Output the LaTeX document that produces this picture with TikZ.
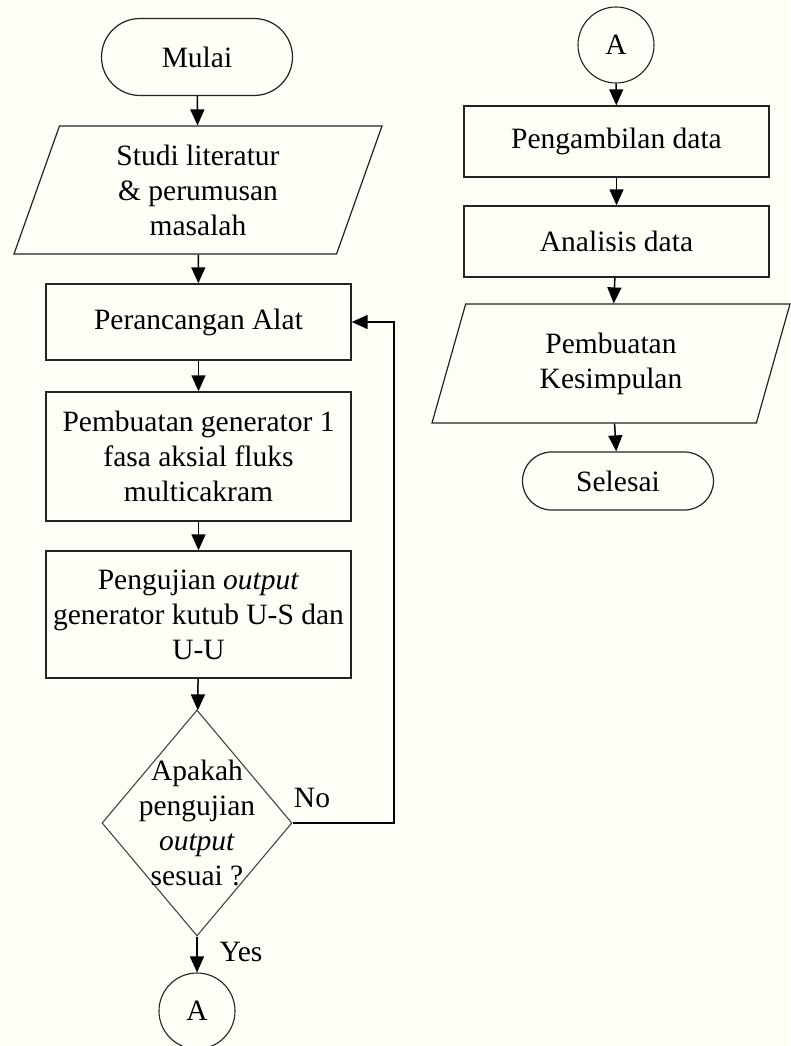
\documentclass[tikz,border=0pt]{standalone}
\usepackage{fontspec}
\setmainfont{Liberation Serif}
\usetikzlibrary{positioning, arrows.meta, shapes.geometric, shapes.misc}
\definecolor{paper}{RGB}{254,254,246}
\definecolor{edge}{RGB}{35,35,35}
\tikzset{
  % --- nodes ---
  terminal/.style  = {rounded rectangle, draw=edge, line width=1.2pt,
                      minimum width=191pt, inner sep=0pt},
  process/.style   = {rectangle, draw=edge, line width=1.4pt, align=center,
                      minimum width=305pt, inner sep=0pt},
  io/.style        = {trapezium, trapezium stretches body, draw=edge,
                      line width=1.2pt, align=center, inner sep=0pt},
  decision/.style  = {diamond, draw=edge!85, line width=1.1pt,
                      minimum width=190pt, minimum height=226pt, inner sep=0pt},
  connector/.style = {circle, draw=edge, line width=1.1pt,
                      minimum size=76pt, inner sep=0pt},
  lbl/.style       = {inner sep=0pt, align=center},
  % --- edges ---
  flow/.style      = {-{Triangle[length=16pt,width=14pt]}, line width=1.5pt, black},
}

\begin{document}
\begin{tikzpicture}[x=1pt, y=-1pt, font=\fontsize{29.5}{35}\selectfont]

  \fill[paper] (0,0) rectangle (790,1046);
  \useasboundingbox (0,0) rectangle (790,1046);

  % ===================================================================
  %  LEFT COLUMN
  % ===================================================================
  \node[terminal, minimum height=77pt] (start) at (197,57) {Mulai};
  \node[io, trapezium left angle=63.4, trapezium right angle=116.6,
        minimum width=368pt, minimum height=128pt] (study) at (198,190)
        {Studi literatur\\\&~perumusan\\masalah};
  \node[process, minimum height=76pt] (design) at (198.5,322) {Perancangan Alat};
  \node[process, minimum height=129pt] (build) at (198.5,456.5)
        {Pembuatan generator 1\\fasa aksial fluks\\multicakram};
  \node[process, minimum height=127pt] (test) at (198.5,614.5)
        {Pengujian \textit{output}\\generator kutub U-S dan\\U-U};
  \node[decision] (check) at (197,823) {};
  \node[lbl] (checktxt) at (197,823)
        {Apakah\\pengujian\\\textit{output}\\sesuai ?};
  \node[connector] (outA) at (197,1011) {A};

  % ===================================================================
  %  RIGHT COLUMN
  % ===================================================================
  \node[connector] (inA) at (616,45) {A};
  \node[process, minimum height=71pt] (collect) at (616.5,141.5) {Pengambilan data};
  \node[process, minimum height=71pt] (analyse) at (616.5,241.5) {Analisis data};
  \node[io, trapezium left angle=61.4, trapezium right angle=118.6,
        minimum width=358pt, minimum height=119pt] (concl) at (611,363.5)
        {Pembuatan\\Kesimpulan};
  \node[terminal, minimum height=58pt] (stop) at (618,481) {Selesai};

  % ===================================================================
  %  FLOW
  % ===================================================================
  \draw[flow] (start) -- (study);
  \draw[flow] (study) -- (design);
  \draw[flow] (design) -- (build);
  \draw[flow] (build) -- (test);
  \draw[flow] (test) -- (check);
  \draw[flow] (check) -- (outA);
  \node[lbl] (yes) at (241,952) {Yes};

  % --- loop back when the test fails ---
  \coordinate (back) at (394,823);
  \draw[flow] (check.east) -- (back) |- (design.east);
  \node[lbl] (no) at (312,798) {No};

  \draw[flow] (inA) -- (collect);
  \draw[flow] (collect) -- (analyse);
  \draw[flow] (analyse) -- (concl);
  \draw[flow] (concl) -- (stop);

\end{tikzpicture}
\end{document}
